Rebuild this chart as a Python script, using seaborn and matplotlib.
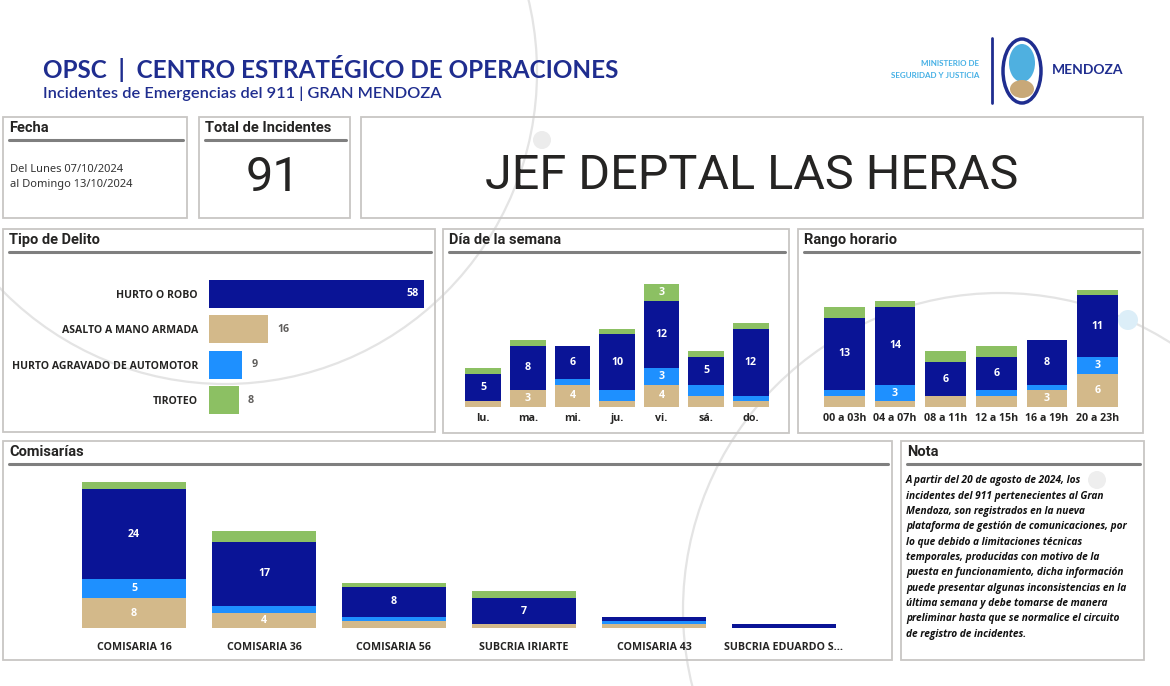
import numpy as np
import seaborn as sns
import matplotlib.pyplot as plt
from matplotlib.patches import Rectangle, Ellipse, Circle

W, H = 1170, 686

delitos = ["HURTO O ROBO", "ASALTO A MANO ARMADA", "HURTO AGRAVADO DE AUTOMOTOR", "TIROTEO"]
delitos_n = [58, 16, 9, 8]

dias = ["lu.", "ma.", "mi.", "ju.", "vi.", "sá.", "do."]
dias_asalto = [1, 3, 4, 1, 4, 2, 1]
dias_automotor = [0, 0, 1, 2, 3, 2, 1]
dias_hurto = [5, 8, 6, 10, 12, 5, 12]
dias_tiroteo = [1, 1, 0, 1, 3, 1, 1]

horas = ["00 a 03h", "04 a 07h", "08 a 11h", "12 a 15h", "16 a 19h", "20 a 23h"]
horas_asalto = [2, 1, 2, 2, 3, 6]
horas_automotor = [1, 3, 0, 1, 1, 3]
horas_hurto = [13, 14, 6, 6, 8, 11]
horas_tiroteo = [2, 1, 2, 2, 0, 1]

comisarias = ["COMISARIA 16", "COMISARIA 36", "COMISARIA 56", "SUBCRIA IRIARTE",
              "COMISARIA 43", "SUBCRIA EDUARDO S..."]
com_asalto = [8, 4, 2, 1, 1, 0]
com_automotor = [5, 2, 1, 0, 1, 0]
com_hurto = [24, 17, 8, 7, 1, 1]
com_tiroteo = [2, 3, 1, 2, 0, 0]

c_hurto, c_asalto, c_auto, c_tiro = "#0A1496", "#D3B98A", "#1E90FF", "#8CC063"
navy = "#1F2D8F"
dark = "#252423"

sns.set_style("white")
plt.rcParams["font.family"] = ["Open Sans", "DejaVu Sans"]

fig = plt.figure(figsize=(11.7, 6.86), dpi=100)
bg = fig.add_axes([0, 0, 1, 1])
bg.set_xlim(0, W)
bg.set_ylim(H, 0)
bg.axis("off")

# arcos decorativos del fondo
bg.add_patch(Circle((225, 72), 312, fill=False, ec="#E4E4E4", lw=1.6))
bg.add_patch(Circle((1000, 610), 317, fill=False, ec="#E4E4E4", lw=1.6))
bg.add_patch(Circle((542, 140), 9, fc="#ECECEC", ec="none"))
bg.add_patch(Circle((1128, 320), 10, fc="#DCEEF8", ec="none"))
bg.add_patch(Circle((1097, 480), 9, fc="#EEEEEE", ec="none"))


def pos(x0, y0, x1, y1):
    return [x0 / W, 1 - y1 / H, (x1 - x0) / W, (y1 - y0) / H]


def caja(x0, y0, x1, y1, titulo=None):
    bg.add_patch(Rectangle((x0, y0), x1 - x0, y1 - y0, fill=False, ec="#C8C6C4", lw=1.3))
    if titulo:
        bg.text(x0 + 6, y0 + 11, titulo, fontsize=10.5, fontweight="bold", color=dark,
                va="center", family="Roboto")
        bg.plot([x0 + 6, x1 - 4], [y0 + 23, y0 + 23], color="#7F7F7F", lw=2.2)


# encabezado
bg.text(43, 68, "OPSC  |  CENTRO ESTRATÉGICO DE OPERACIONES", fontsize=17.5, fontweight="bold",
        color=navy, va="center", family="Lato")
bg.text(43, 94, "Incidentes de Emergencias del 911 | GRAN MENDOZA", fontsize=11.8, color=navy,
        va="center", fontweight="semibold", family="Lato")
bg.text(979, 63, "MINISTERIO DE", fontsize=5.8, fontweight="bold", color="#45B0E5", ha="right",
        va="center", family="Lato")
bg.text(979, 76, "SEGURIDAD Y JUSTICIA", fontsize=5.8, fontweight="bold", color="#45B0E5", ha="right",
        va="center", family="Lato")
bg.plot([992, 992], [38, 103], color=navy, lw=2)
bg.add_patch(Ellipse((1022, 71), 38, 64, fc="white", ec=navy, lw=2.5))
bg.add_patch(Ellipse((1022, 63), 26, 38, fc="#4FB0E0", ec="none"))
bg.add_patch(Ellipse((1022, 89), 24, 18, fc="#C8A878", ec="none"))
bg.text(1052, 70, "MENDOZA", fontsize=10, fontweight="bold", color=navy, va="center", family="Lato")

# tarjetas superiores
caja(3, 117, 187, 218, "Fecha")
bg.text(10, 170, "Del Lunes 07/10/2024", fontsize=8, color="#333333", va="center", family="Noto Sans")
bg.text(10, 185, "al Domingo 13/10/2024", fontsize=8, color="#333333", va="center", family="Noto Sans")
caja(199, 117, 350, 218, "Total de Incidentes")
bg.text(273, 178, str(sum(delitos_n)), fontsize=35, color=dark, ha="center", va="center", family="Roboto")
caja(361, 117, 1143, 218)
bg.text(752, 176, "JEF DEPTAL LAS HERAS", fontsize=35, color=dark, ha="center", va="center", family="Roboto")

caja(3, 229, 435, 432, "Tipo de Delito")
caja(443, 229, 789, 433, "Día de la semana")
caja(798, 229, 1143, 433, "Rango horario")
caja(3, 441, 892, 660, "Comisarías")
caja(901, 441, 1144, 660, "Nota")

nota = ["A partir del 20 de agosto de 2024, los",
        "incidentes del 911 pertenecientes al Gran",
        "Mendoza, son registrados en la nueva",
        "plataforma de gestión de comunicaciones, por",
        "lo que debido a limitaciones técnicas",
        "temporales, producidas con motivo de la",
        "puesta en funcionamiento, dicha información",
        "puede presentar algunas inconsistencias en la",
        "última semana y debe tomarse de manera",
        "preliminar hasta que se normalice el circuito",
        "de registro de incidentes."]
for i, linea in enumerate(nota):
    bg.text(906, 481 + i * 15.3, linea, fontsize=7.3, fontweight="bold", style="italic",
            color="#111111", va="center")

# Tipo de delito
ax = fig.add_axes(pos(209, 276, 424, 418))
ax.patch.set_alpha(0)
sns.barplot(x=delitos_n, y=delitos, hue=delitos, palette=[c_hurto, c_asalto, c_auto, c_tiro],
            saturation=1, width=0.8, legend=False, orient="h", ax=ax, linewidth=0)
ax.set_xlim(0, max(delitos_n))
for i, v in enumerate(delitos_n):
    if v == max(delitos_n):
        ax.text(v - 1.5, i, str(v), ha="right", va="center", color="white", fontsize=7.7, fontweight="bold")
    else:
        ax.text(v + 2.5, i, str(v), ha="left", va="center", color="#605E5C", fontsize=7.7, fontweight="bold")
ax.set_xticks([])
ax.tick_params(length=0, pad=8)
for t in ax.get_yticklabels():
    t.set_fontsize(7.6)
    t.set_fontweight("bold")
    t.set_color(dark)
ax.set_xlabel("")
ax.set_ylabel("")
sns.despine(ax=ax, left=True, bottom=True)


def apilado(rect, cats, capas, ymax, fs, pad, tfs):
    ax = fig.add_axes(pos(*rect))
    ax.patch.set_alpha(0)
    vals = np.array([v for v, c in capas])
    tope = np.cumsum(vals, axis=0)
    base = tope - vals
    for k in range(len(capas) - 1, -1, -1):
        sns.barplot(x=cats, y=tope[k], color=capas[k][1], saturation=1, width=0.8,
                    ax=ax, linewidth=0)
    for k in range(len(capas)):
        for i, v in enumerate(vals[k]):
            if v >= 3 and v / ymax >= 0.09:
                ax.text(i, base[k][i] + v / 2, str(v), ha="center", va="center",
                        color="white", fontsize=fs, fontweight="bold")
    ax.set_ylim(0, ymax)
    ax.set_yticks([])
    ax.tick_params(length=0, pad=pad)
    for t in ax.get_xticklabels():
        t.set_fontsize(tfs)
        t.set_fontweight("bold")
        t.set_color(dark)
    ax.set_xlabel("")
    ax.set_ylabel("")
    sns.despine(ax=ax, left=True, bottom=True)
    return ax


apilado((461, 273, 773, 407), dias,
        [(dias_asalto, c_asalto), (dias_automotor, c_auto), (dias_hurto, c_hurto), (dias_tiroteo, c_tiro)],
        24, 7.7, 4, 7.7)
apilado((819, 273, 1123, 407), horas,
        [(horas_asalto, c_asalto), (horas_automotor, c_auto), (horas_hurto, c_hurto), (horas_tiroteo, c_tiro)],
        24, 7.7, 4, 7.7)
apilado((69, 478, 849, 628), comisarias,
        [(com_asalto, c_asalto), (com_automotor, c_auto), (com_hurto, c_hurto), (com_tiroteo, c_tiro)],
        40, 7.7, 10, 7.7)

fig.savefig("out.png", dpi=100, facecolor="white")
